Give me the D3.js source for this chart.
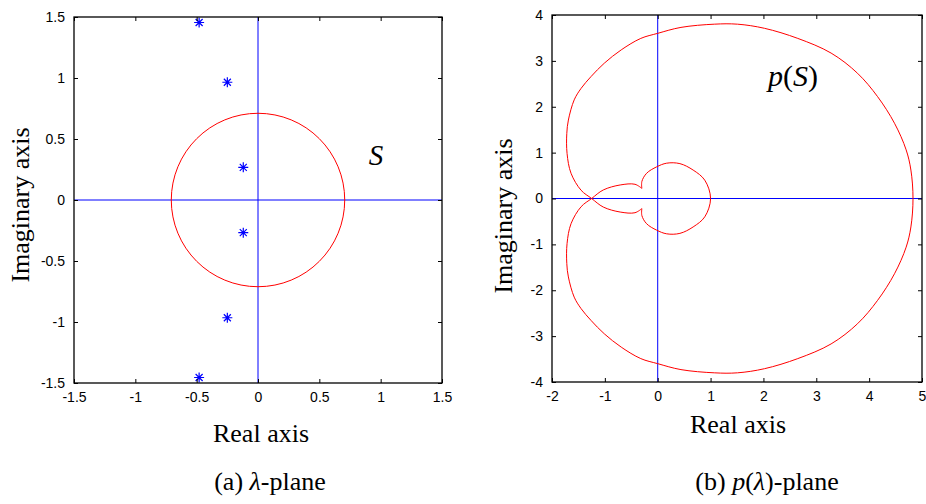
<!DOCTYPE html>
<html lang="en">
<head>
    <meta charset="UTF-8">
    <title>lambda-plane and p(lambda)-plane</title>
    <script src="https://cdn.jsdelivr.net/npm/d3@7"></script>
</head>
<style>
    body { margin: 0; background: #fff; }
    .tick text { font-family: "Liberation Sans", Arial, sans-serif; font-size: 14px; fill: #000; }
    .tick line { stroke: #000; }
    .domain { stroke: none; }
    .title { font-family: "Liberation Serif", "Times New Roman", serif; font-size: 26px; fill: #000; }
</style>
<body>
<script>
    var width = 926;
    var height = 504;

    // (a) lambda-plane
    var xTicksA = [-1.5, -1, -0.5, 0, 0.5, 1, 1.5];
    var yTicksA = [-1.5, -1, -0.5, 0, 0.5, 1, 1.5];
    var circleRadius = 0.707;
    var starsRe = [-0.48, -0.25, -0.12, -0.12, -0.25, -0.48];
    var starsIm = [1.455, 0.965, 0.268, -0.268, -0.965, -1.455];

    // (b) p(lambda)-plane
    var xTicksB = [-2, -1, 0, 1, 2, 3, 4, 5];
    var yTicksB = [-4, -3, -2, -1, 0, 1, 2, 3, 4];
    // outer branch, from lower cusp through the crossing, round the big loop, back to upper cusp
    var outerRe = [-0.30, -0.43, -0.71, -1.03, -1.25, -1.45, -1.64, -1.715, -1.72, -1.69, -1.58, -1.45, -1.26, -1.01, -0.69, -0.32, 0, 0.44, 1.07, 1.51, 2.02, 2.65, 3.28, 3.78, 4.16, 4.48, 4.70, 4.79, 4.83,
        4.79, 4.70, 4.48, 4.16, 3.78, 3.28, 2.65, 2.02, 1.51, 1.07, 0.44, 0, -0.32, -0.69, -1.01, -1.26, -1.45, -1.58, -1.69, -1.72, -1.715, -1.64, -1.45, -1.25, -1.03, -0.71, -0.43, -0.30];
    var outerIm = [-0.22, -0.31, -0.295, -0.186, 0, 0.18, 0.55, 0.98, 1.42, 1.71, 2.15, 2.40, 2.66, 2.95, 3.24, 3.49, 3.60, 3.73, 3.80, 3.80, 3.71, 3.49, 3.17, 2.73, 2.22, 1.64, 1.06, 0.62, 0,
        -0.62, -1.06, -1.64, -2.22, -2.73, -3.17, -3.49, -3.71, -3.80, -3.80, -3.73, -3.60, -3.49, -3.24, -2.95, -2.66, -2.40, -2.15, -1.71, -1.42, -0.98, -0.55, -0.18, 0, 0.186, 0.295, 0.31, 0.22];
    // inner small loop, from upper cusp over the top to lower cusp
    var innerRe = [-0.30, -0.30, -0.21, -0.02, 0.17, 0.42, 0.67, 0.89, 1.00, 0.89, 0.67, 0.42, 0.17, -0.02, -0.21, -0.30, -0.30];
    var innerIm = [0.22, 0.37, 0.55, 0.69, 0.77, 0.76, 0.62, 0.40, 0, -0.40, -0.62, -0.76, -0.77, -0.69, -0.55, -0.37, -0.22];

    var svg = d3.select('body')
        .append('svg')
        .attr('width', width)
        .attr('height', height)

    function plain(d) {
        return String(d)
    }

    function frame(g, x, y, xTicks, yTicks) {
        var x0 = x.range()[0], x1 = x.range()[1]
        var y0 = y.range()[1], y1 = y.range()[0]
        g.append('g').attr('transform', 'translate(0,' + y1 + ')')
            .call(d3.axisBottom(x).tickValues(xTicks).tickSize(-4).tickPadding(9).tickFormat(plain))
        g.append('g').attr('transform', 'translate(0,' + y0 + ')')
            .call(d3.axisTop(x).tickValues(xTicks).tickSize(-4).tickFormat(''))
        g.append('g').attr('transform', 'translate(' + x0 + ',0)')
            .call(d3.axisLeft(y).tickValues(yTicks).tickSize(-4).tickPadding(9).tickFormat(plain))
        g.append('g').attr('transform', 'translate(' + x1 + ',0)')
            .call(d3.axisRight(y).tickValues(yTicks).tickSize(-4).tickFormat(''))
        g.append('rect')
            .attr('x', x0).attr('y', y0)
            .attr('width', x1 - x0).attr('height', y1 - y0)
            .attr('fill', 'none').attr('stroke', '#000').attr('stroke-width', 1.3)
    }

    function zeroLines(g, x, y) {
        g.append('line')
            .attr('x1', x.range()[0]).attr('x2', x.range()[1])
            .attr('y1', y(0)).attr('y2', y(0))
            .attr('stroke', '#0000ff').attr('stroke-width', 1)
        g.append('line')
            .attr('x1', x(0)).attr('x2', x(0))
            .attr('y1', y.range()[0]).attr('y2', y.range()[1])
            .attr('stroke', '#0000ff').attr('stroke-width', 1)
    }

    // ---- panel (a)
    var xA = d3.scaleLinear().domain([-1.5, 1.5]).range([74, 442])
    var yA = d3.scaleLinear().domain([-1.5, 1.5]).range([383, 17])
    var gA = svg.append('g')

    zeroLines(gA, xA, yA)

    gA.append('circle')
        .attr('cx', xA(0)).attr('cy', yA(0))
        .attr('r', xA(circleRadius) - xA(0))
        .attr('fill', 'none').attr('stroke', '#ff0000').attr('stroke-width', 1)

    var stars = gA.selectAll('.star')
        .data(d3.range(starsRe.length))
        .enter()
        .append('g')
        .attr('class', 'star')
        .attr('transform', function (i) {
            return 'translate(' + xA(starsRe[i]) + ',' + yA(starsIm[i]) + ')'
        })
    stars.append('path')
        .attr('d', 'M-5,0H5M0,-5V5M-3.5,-3.5L3.5,3.5M-3.5,3.5L3.5,-3.5')
        .attr('stroke', '#0000ff').attr('stroke-width', 1.2)

    frame(gA, xA, yA, xTicksA, yTicksA)

    gA.append('text').attr('class', 'title')
        .attr('x', 376).attr('y', 165).attr('text-anchor', 'middle')
        .style('font-style', 'italic').style('font-size', '29px')
        .text('S')

    gA.append('text').attr('class', 'title')
        .attr('x', 261).attr('y', 442).attr('text-anchor', 'middle')
        .text('Real axis')
    gA.append('text').attr('class', 'title')
        .attr('transform', 'translate(29,205) rotate(-90)').attr('text-anchor', 'middle')
        .text('Imaginary axis')

    var capA = gA.append('text').attr('class', 'title')
        .attr('x', 270).attr('y', 490).attr('text-anchor', 'middle')
    capA.append('tspan').text('(a) ')
    capA.append('tspan').style('font-style', 'italic').text('λ')
    capA.append('tspan').text('-plane')

    // ---- panel (b)
    var xB = d3.scaleLinear().domain([-2, 5]).range([552, 922])
    var yB = d3.scaleLinear().domain([-4, 4]).range([382, 15])
    var gB = svg.append('g')

    zeroLines(gB, xB, yB)

    function curvePath(re, im) {
        return d3.line()
            .x(function (i) { return xB(re[i]) })
            .y(function (i) { return yB(im[i]) })
            .curve(d3.curveCatmullRom.alpha(0.5))(d3.range(re.length))
    }

    gB.append('path')
        .attr('d', curvePath(outerRe, outerIm))
        .attr('fill', 'none').attr('stroke', '#ff0000').attr('stroke-width', 1)
    gB.append('path')
        .attr('d', curvePath(innerRe, innerIm))
        .attr('fill', 'none').attr('stroke', '#ff0000').attr('stroke-width', 1)

    frame(gB, xB, yB, xTicksB, yTicksB)

    var pS = gB.append('text').attr('class', 'title')
        .attr('x', 793).attr('y', 86).attr('text-anchor', 'middle')
        .style('font-size', '30px')
    pS.append('tspan').style('font-style', 'italic').text('p')
    pS.append('tspan').text('(')
    pS.append('tspan').style('font-style', 'italic').text('S')
    pS.append('tspan').text(')')

    gB.append('text').attr('class', 'title')
        .attr('x', 738).attr('y', 433).attr('text-anchor', 'middle')
        .text('Real axis')
    gB.append('text').attr('class', 'title')
        .attr('transform', 'translate(512,216) rotate(-90)').attr('text-anchor', 'middle')
        .text('Imaginary axis')

    var capB = gB.append('text').attr('class', 'title')
        .attr('x', 767).attr('y', 490).attr('text-anchor', 'middle')
    capB.append('tspan').text('(b)  ')
    capB.append('tspan').style('font-style', 'italic').text('p')
    capB.append('tspan').text('(')
    capB.append('tspan').style('font-style', 'italic').text('λ')
    capB.append('tspan').text(')-plane')
</script>

</body>
</html>
